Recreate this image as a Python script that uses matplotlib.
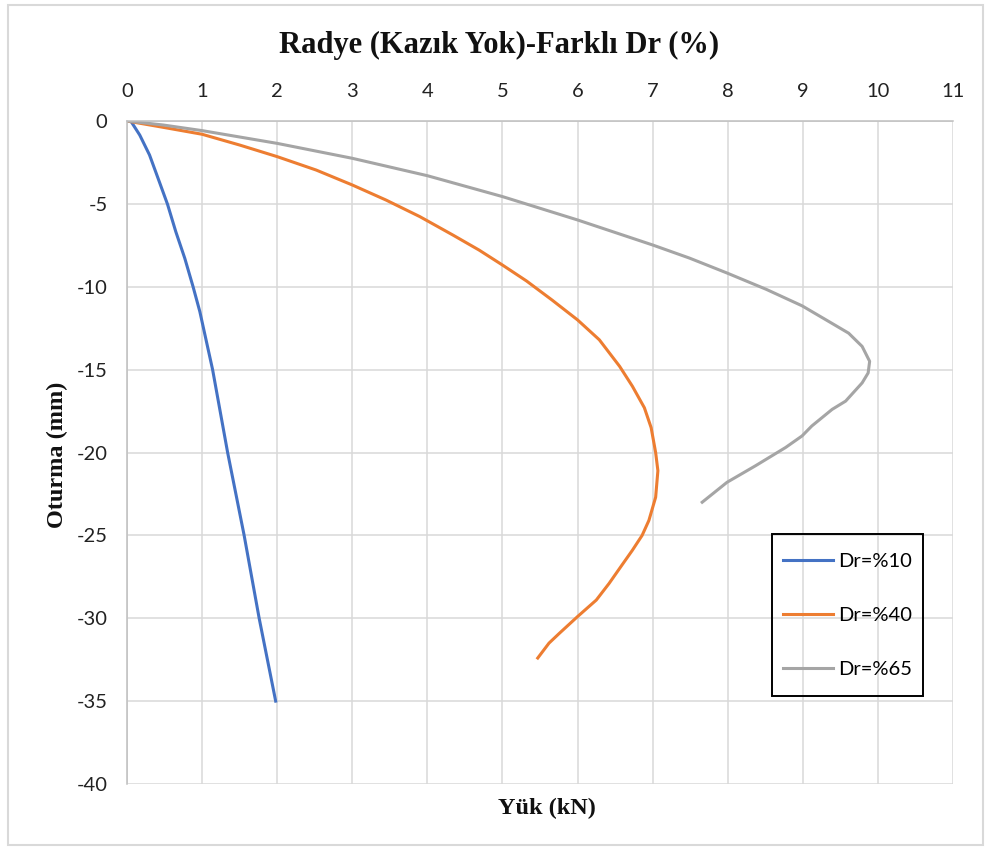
import numpy as np
import matplotlib
matplotlib.use("Agg")
import matplotlib.pyplot as plt
from matplotlib.patches import Rectangle

plt.rcParams["axes.unicode_minus"] = False

# ---- data (Yük kN, Oturma mm) ----
dr10_x = [0.05, 0.17, 0.30, 0.43, 0.54, 0.65, 0.77, 0.88, 0.97, 1.14, 1.34, 1.56, 1.76, 1.98]
dr10_y = [0, -0.85, -2.05, -3.66, -5.03, -6.68, -8.29, -10.0, -11.5, -15.0, -20.0, -25.0, -30.0, -35.0]

dr40_x = [0, 0.48, 1.0, 1.5, 2.0, 2.52, 3.0, 3.45, 3.9, 4.34, 4.69, 5.0, 5.32, 5.66, 6.0, 6.29,
          6.56, 6.73, 6.89, 6.98, 7.04, 7.07, 7.04, 6.95, 6.86, 6.73, 6.59, 6.42, 6.25, 6.0, 5.76, 5.62, 5.47]
dr40_y = [0, -0.38, -0.8, -1.45, -2.15, -2.96, -3.86, -4.77, -5.77, -6.88, -7.79, -8.69, -9.65, -10.8, -12.0, -13.2,
          -14.8, -16.0, -17.3, -18.5, -20.0, -21.1, -22.7, -24.1, -25.0, -25.9, -26.8, -27.9, -28.9, -29.9, -30.9, -31.5, -32.4]

dr65_x = [0, 0.48, 1.0, 2.0, 3.0, 4.0, 5.0, 6.0, 7.0, 7.49, 7.99, 8.51, 8.99, 9.31, 9.61, 9.79, 9.89,
          9.87, 9.79, 9.57, 9.39, 9.12, 8.99, 8.77, 8.37, 7.99, 7.66]
dr65_y = [0, -0.24, -0.58, -1.35, -2.25, -3.3, -4.56, -5.97, -7.48, -8.27, -9.17, -10.15, -11.15, -12.0, -12.8, -13.6, -14.5,
          -15.2, -15.8, -16.9, -17.4, -18.4, -19.0, -19.7, -20.8, -21.8, -23.0]

labels = ["Dr=%10", "Dr=%40", "Dr=%65"]
x_ticks = list(range(0, 12))
y_ticks = list(range(-40, 1, 5))

W, H = 985, 850
fig = plt.figure(figsize=(W / 100, H / 100), dpi=100)
ax = fig.add_axes([127 / W, 1 - 784 / H, (953 - 127) / W, (784 - 121) / H])

ax.plot(dr10_x, dr10_y, color="#4472C4", lw=2.2, label=labels[0])
ax.plot(dr40_x, dr40_y, color="#ED7D31", lw=2.2, label=labels[1])
ax.plot(dr65_x, dr65_y, color="#A5A5A5", lw=2.2, label=labels[2])

ax.set_xlim(0, 11)
ax.set_ylim(-40, 0)
ax.set_xticks(x_ticks)
ax.set_yticks(y_ticks)
ax.xaxis.tick_top()
ax.grid(True, color="#D9D9D9", lw=1.1)
ax.set_axisbelow(True)
for s in ["right", "bottom"]:
    ax.spines[s].set_visible(False)
for s in ["left", "top"]:
    ax.spines[s].set_color("#BFBFBF")
    ax.spines[s].set_linewidth(1.1)
ax.tick_params(axis="x", length=0, pad=15, labelsize=14.5, labelcolor="#222222")
ax.tick_params(axis="y", length=0, pad=14, labelsize=14.5, labelcolor="#222222")
for t in ax.get_xticklabels() + ax.get_yticklabels():
    t.set_family("Lato")

# title and axis titles
fig.text(499 / W, 1 - 45 / H, "Radye (Kazık Yok)-Farklı Dr (%)", ha="center", va="center",
         family="Liberation Serif", weight="bold", fontsize=22, color="#111111")
fig.text(547 / W, 1 - 808 / H, "Yük (kN)", ha="center", va="center",
         family="Liberation Serif", weight="bold", fontsize=17.5, color="#111111")
fig.text(57 / W, 1 - 455 / H, "Oturma (mm)", ha="center", va="center", rotation=90,
         family="Liberation Serif", weight="bold", fontsize=17.5, color="#111111")

# legend: entries without frame, black box drawn separately
leg = ax.legend(loc="upper left", bbox_to_anchor=(783 / W, 1 - 553 / H), bbox_transform=fig.transFigure,
                frameon=False, handlelength=2.5, handletextpad=0.25,
                labelspacing=1.825, borderpad=0, borderaxespad=0,
                prop={"family": "Lato", "size": 14.5})
fig.patches.append(Rectangle((772 / W, 1 - 696 / H), (923 - 772) / W, (696 - 534) / H,
                             transform=fig.transFigure, fill=False, ec="black", lw=1.4, zorder=5))

# outer chart border
fig.patches.append(Rectangle((8 / W, 5 / H), (983 - 8) / W, (845 - 5) / H, transform=fig.transFigure,
                             fill=False, ec="#D9D9D9", lw=1.5))

plt.savefig("out.png", dpi=100)
